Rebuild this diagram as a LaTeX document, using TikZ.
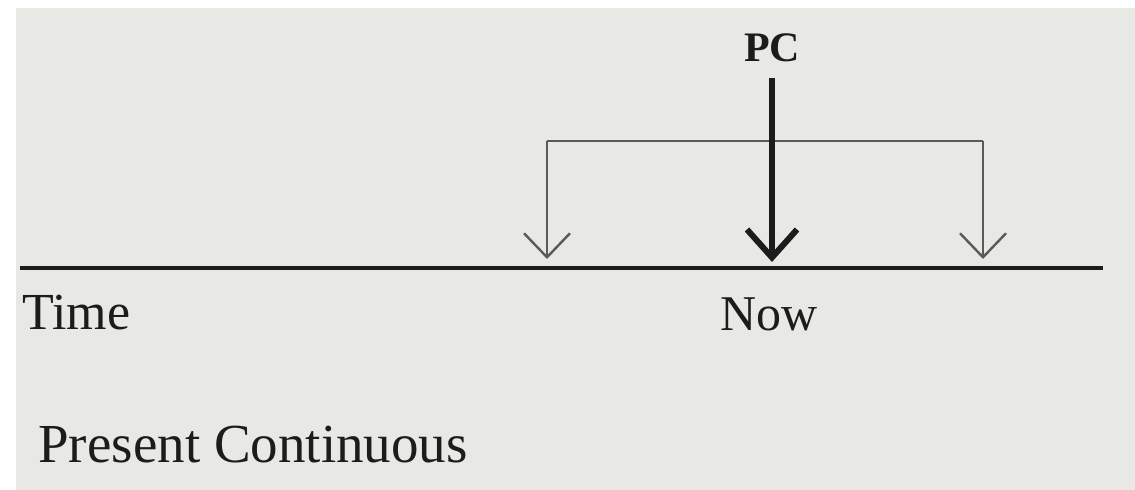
\documentclass[tikz,border=0pt]{standalone}
\usepackage{fontspec}
\setmainfont{Liberation Serif}
\usetikzlibrary{arrows.meta}
\definecolor{paper}{HTML}{E8E8E5}
\definecolor{ink}{HTML}{1C1C1C}
\definecolor{thin}{HTML}{5A5A5A}
\tikzset{
  lbl/.style={inner sep=0pt, text=ink, font=\fontsize{25}{28}\selectfont},
  thinarrow/.style={draw=thin, line width=1.2pt, -{Straight Barb[length=12pt,width=23pt,line width=1.2pt]}},
  bracket/.style={draw=thin, line width=1.2pt},
  mainarrow/.style={draw=ink, line width=3pt, -{Straight Barb[length=14pt,width=25pt,line width=3pt]}},
  timeline/.style={draw=ink, line width=2pt},
}
\begin{document}
\begin{tikzpicture}[x=0.5pt,y=-0.5pt]
\useasboundingbox (0,0) rectangle (1135,490);
\fill[white] (0,0) rectangle (1135,490);
\fill[paper] (16,8) rectangle (1135,490);
% timeline
\coordinate (t0) at (20,268);
\coordinate (t1) at (1103,268);
\draw[timeline] (t0) -- (t1);
% bracket
\coordinate (bl) at (547,141);
\coordinate (br) at (983,141);
\coordinate (tl) at (547,259);
\coordinate (tr) at (983,259);
\draw[bracket] (bl) -- (br);
\draw[thinarrow] (bl) -- (tl);
\draw[thinarrow] (br) -- (tr);
% PC arrow
\node[lbl, font=\bfseries\fontsize{21}{24}\selectfont, anchor=base] (pc) at (772,62) {PC};
\coordinate (cs) at (772,78);
\coordinate (ce) at (772,262);
\draw[mainarrow] (cs) -- (ce);
% labels
\node[lbl, font=\fontsize{26}{28}\selectfont, anchor=base west] (time) at (22,330) {Time};
\node[lbl, anchor=base west] (now) at (720,331) {Now};
\node[lbl, font=\fontsize{27.5}{30}\selectfont, anchor=base west] (title) at (38,463) {Present Continuous};
\end{tikzpicture}
\end{document}
